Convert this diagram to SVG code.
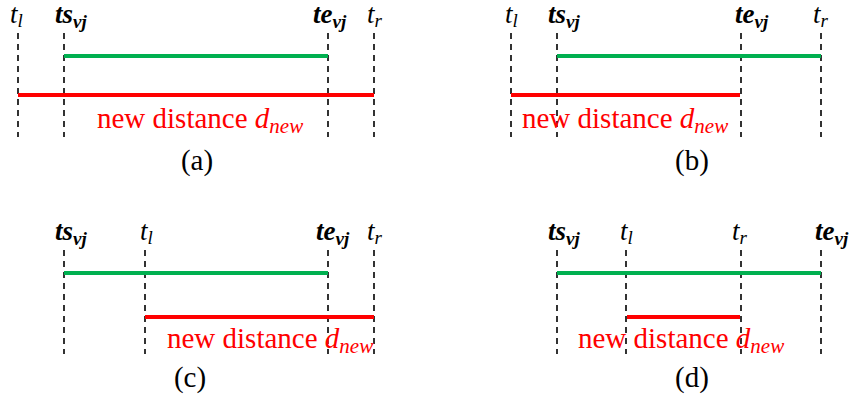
<svg xmlns="http://www.w3.org/2000/svg" width="854" height="406" viewBox="0 0 854 406" font-family="'Liberation Serif', 'Times New Roman', Times, 'DejaVu Serif', serif">
<style>
.dash{stroke:#000;stroke-width:1.6;stroke-dasharray:6,5;fill:none}
.g{stroke:#00B050;stroke-width:4;fill:none}
.r{stroke:#FF0000;stroke-width:4;fill:none}
.lab{font-size:27px;font-style:italic;fill:#000}
.b{font-weight:bold}
.sub{font-size:19px}
.nsub{font-size:21px}
.nd{font-size:29px;fill:#FF0000}
.cap{font-size:29px;fill:#000;text-anchor:middle}
</style>
<rect width="854" height="406" fill="#fff"/>
<g id="connectors">
<line class="dash" x1="18" y1="33" x2="18" y2="137"/>
<line class="dash" x1="64" y1="33" x2="64" y2="137"/>
<line class="dash" x1="328" y1="33" x2="328" y2="137"/>
<line class="dash" x1="374" y1="33" x2="374" y2="137"/>
<line class="g" x1="64" y1="56" x2="328" y2="56"/>
<line class="r" x1="18" y1="95" x2="374" y2="95"/>
<line class="dash" x1="511" y1="33" x2="511" y2="137"/>
<line class="dash" x1="557" y1="33" x2="557" y2="137"/>
<line class="dash" x1="741" y1="33" x2="741" y2="137"/>
<line class="dash" x1="821" y1="33" x2="821" y2="137"/>
<line class="g" x1="557" y1="56" x2="821" y2="56"/>
<line class="r" x1="511" y1="95" x2="740" y2="95"/>
<line class="dash" x1="64" y1="250" x2="64" y2="354"/>
<line class="dash" x1="145" y1="250" x2="145" y2="354"/>
<line class="dash" x1="328" y1="250" x2="328" y2="354"/>
<line class="dash" x1="374" y1="250" x2="374" y2="354"/>
<line class="g" x1="64" y1="273" x2="328" y2="273"/>
<line class="r" x1="145" y1="317" x2="374" y2="317"/>
<line class="dash" x1="557" y1="250" x2="557" y2="354"/>
<line class="dash" x1="626" y1="250" x2="626" y2="354"/>
<line class="dash" x1="741" y1="250" x2="741" y2="354"/>
<line class="dash" x1="821" y1="250" x2="821" y2="354"/>
<line class="g" x1="557" y1="273" x2="821" y2="273"/>
<line class="r" x1="627" y1="317" x2="740" y2="317"/>
</g>
<g id="panel-a">
<text class="lab" x="10" y="23">t<tspan class="sub" dy="4">l</tspan></text>
<text class="lab b" x="55" y="23">ts<tspan class="sub" dy="5">vj</tspan></text>
<text class="lab b" x="313" y="23">te<tspan class="sub" dy="5">vj</tspan></text>
<text class="lab" x="367" y="23">t<tspan class="sub" dy="4">r</tspan></text>
<text class="nd" x="97" y="128">new distance <tspan font-style="italic">d</tspan><tspan font-style="italic" class="nsub" dy="5">new</tspan></text>
<text class="cap" x="197" y="170">(a)</text>
</g>
<g id="panel-b">
<text class="lab" x="505" y="23">t<tspan class="sub" dy="4">l</tspan></text>
<text class="lab b" x="548" y="23">ts<tspan class="sub" dy="5">vj</tspan></text>
<text class="lab b" x="735" y="23">te<tspan class="sub" dy="5">vj</tspan></text>
<text class="lab" x="813" y="23">t<tspan class="sub" dy="4">r</tspan></text>
<text class="nd" x="522" y="128">new distance <tspan font-style="italic">d</tspan><tspan font-style="italic" class="nsub" dy="5">new</tspan></text>
<text class="cap" x="692" y="170">(b)</text>
</g>
<g id="panel-c">
<text class="lab b" x="55" y="240">ts<tspan class="sub" dy="5">vj</tspan></text>
<text class="lab" x="140" y="240">t<tspan class="sub" dy="4">l</tspan></text>
<text class="lab b" x="316" y="240">te<tspan class="sub" dy="5">vj</tspan></text>
<text class="lab" x="367" y="240">t<tspan class="sub" dy="4">r</tspan></text>
<text class="nd" x="167" y="348">new distance <tspan font-style="italic">d</tspan><tspan font-style="italic" class="nsub" dy="5">new</tspan></text>
<text class="cap" x="190" y="387">(c)</text>
</g>
<g id="panel-d">
<text class="lab b" x="548" y="240">ts<tspan class="sub" dy="5">vj</tspan></text>
<text class="lab" x="620" y="240">t<tspan class="sub" dy="4">l</tspan></text>
<text class="lab" x="732" y="240">t<tspan class="sub" dy="4">r</tspan></text>
<text class="lab b" x="815" y="240">te<tspan class="sub" dy="5">vj</tspan></text>
<text class="nd" x="578" y="348">new distance <tspan font-style="italic">d</tspan><tspan font-style="italic" class="nsub" dy="5">new</tspan></text>
<text class="cap" x="692" y="387">(d)</text>
</g>
</svg>
